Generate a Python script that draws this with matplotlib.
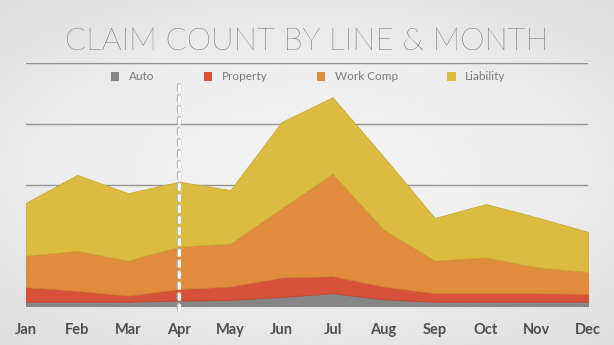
import numpy as np
import matplotlib
matplotlib.use("Agg")
import matplotlib.pyplot as plt
from matplotlib.patches import Patch
import matplotlib.patheffects as pe

# claim counts
months = ["Jan", "Feb", "Mar", "Apr", "May", "Jun", "Jul", "Aug", "Sep", "Oct", "Nov", "Dec"]
auto = [7, 7, 7, 9, 10, 15, 21, 11, 7, 7, 7, 7]
prop = [24, 18, 10, 19, 22, 32, 28, 21, 14, 14, 14, 13]
work_comp = [52, 66, 58, 70, 71, 114, 169, 94, 54, 59, 43, 36]
liability = [87, 125, 111, 107, 88, 142, 126, 120, 70, 88, 82, 66]
series_names = ["Auto", "Property", "Work Comp", "Liability"]
colors = ["#858585", "#d6503a", "#e08c3c", "#dbbb40"]
edge_colors = ["#7a7a7a", "#c4452f", "#cf7d33", "#c9aa35"]
marker_month = "Apr"

fig = plt.figure(figsize=(6.14, 3.45), dpi=100)

# soft vignette background
bg = fig.add_axes([0, 0, 1, 1], zorder=-10)
yy, xx = np.mgrid[-1:1:200j, -1:1:300j]
r = np.sqrt((xx * 0.9) ** 2 + (yy * 1.0) ** 2)
bg.imshow(0.95 - 0.05 * r ** 2, cmap="gray", vmin=0, vmax=1,
          extent=[0, 1, 0, 1], aspect="auto")
bg.axis("off")

ax = fig.add_axes([26 / 614, 1 - 306 / 345, 562 / 614, (306 - 63.3) / 345])
ax.patch.set_alpha(0)
x = np.arange(len(months))
stacks = ax.stackplot(x, auto, prop, work_comp, liability, colors=colors,
                      labels=series_names, zorder=2)
for poly, ec in zip(stacks, edge_colors):
    poly.set_edgecolor(ec)
    poly.set_linewidth(0.6)

ax.set_xlim(0, len(months) - 1)
ax.set_ylim(0, 400)
ax.set_yticks([100, 200, 300, 400])
ax.yaxis.grid(True, color="#929292", linewidth=1.0, zorder=0)
ax.set_axisbelow(True)
ax.tick_params(axis="y", left=False, labelleft=False)
ax.tick_params(axis="x", length=0, pad=12)
for s in ax.spines.values():
    s.set_visible(False)
ax.set_xticks(x)
ax.set_xticklabels(months, fontfamily="Lato", fontweight="bold",
                   fontsize=10.5, color="#4e4e4e")

# white dashed marker line
mi = months.index(marker_month)
ln, = ax.plot([mi, mi], [-7, 364], color="white", linewidth=2.2,
              linestyle=(0, (1.6, 2.0)), clip_on=False, zorder=5,
              solid_capstyle="butt", dash_capstyle="round")
ln.set_path_effects([pe.Stroke(linewidth=3.2, foreground="#b8b8b8"), pe.Normal()])

fig.text(0.5, 1 - 41 / 345, "CLAIM COUNT BY LINE & MONTH", ha="center", va="center",
         fontfamily="Lato", fontweight="light", fontsize=22.3, color="#333333")

handles = [Patch(facecolor=c, edgecolor="none") for c in colors]
fig.legend(handles, series_names, loc="center", bbox_to_anchor=(0.502, 1 - 77 / 345),
           ncol=4, frameon=False, handlelength=0.7, handleheight=0.7,
           handletextpad=0.8, columnspacing=4.2,
           prop={"family": "Lato", "weight": "normal", "size": 8.5},
           labelcolor="#7a7a7a")

fig.savefig("out.png", dpi=100)
